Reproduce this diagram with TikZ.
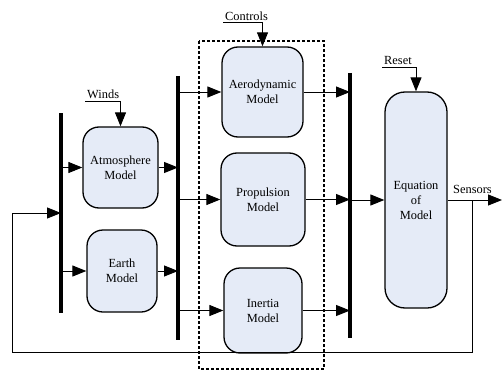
\documentclass[tikz,border=0pt]{standalone}
\usepackage{fontspec}
\setmainfont{Liberation Serif}
\usetikzlibrary{arrows.meta}

\begin{document}
\begin{tikzpicture}[x=1pt, y=-1pt, every node/.style={font=\fontsize{12.4}{15}\selectfont},
	>={Triangle[length=14pt, width=11pt]},
	model/.style={draw, line width=1.3pt, rounded corners=16pt, fill={rgb,255:red,229;green,235;blue,247}, align=center, inner sep=0pt},
	bus/.style={line width=3.4pt},
	sig/.style={line width=0.9pt},
	lbl/.style={anchor=south west, inner xsep=2pt, inner ysep=1.8pt, fill=white}]
	\useasboundingbox (0,0) rectangle (502,385);
	% buses
	\coordinate (b1t) at (61,113);  \coordinate (b1b) at (61,313);
	\coordinate (b2t) at (178,76);  \coordinate (b2b) at (178,340);
	\coordinate (b3t) at (350,73);  \coordinate (b3b) at (350,338);
	\draw[bus] (b1t) -- (b1b);
	\draw[bus] (b2t) -- (b2b);
	\draw[bus] (b3t) -- (b3b);
	% dashed group
	\draw[line width=1.2pt, dash pattern=on 3pt off 2pt] (199,41) rectangle (324,369);
	% models
	\node[model, minimum width=75pt, minimum height=81pt] (atm) at (120.5,167.5) {Atmosphere\\Model};
	\node[model, minimum width=70pt, minimum height=82pt] (earth) at (122,271) {Earth\\Model};
	\node[model, minimum width=81pt, minimum height=90pt] (aero) at (262.5,92) {Aerodynamic\\Model};
	\node[model, minimum width=84pt, minimum height=93pt] (prop) at (263,199.5) {Propulsion\\Model};
	\node[model, minimum width=78pt, minimum height=85pt] (inert) at (263,310.5) {Inertia\\Model};
	\node[model, rounded corners=20pt, minimum width=62pt, minimum height=216pt] (eq) at (416,200) {Equation\\of\\Model};
	% inputs
	\node[lbl] (winds) at (85,101) {Winds};
	\node[lbl] (ctrl) at (223,22.5) {Controls};
	\node[lbl] (reset) at (382,67) {Reset};
	\node[anchor=base west, inner sep=2pt] (sens) at (451,193) {Sensors};
	\draw[sig, ->] (winds.south west) -| (atm.north);
	\draw[sig, ->] (ctrl.south west) -| (aero.north);
	\draw[sig, ->] (reset.south west) -| (eq.north);
	% bus 1
	\draw[sig, ->] (b1t |- atm) -- (atm);
	\draw[sig, ->] (b1t |- earth) -- (earth);
	\draw[sig, ->] (atm) -- (atm -| b2t);
	\draw[sig, ->] (earth) -- (earth -| b2t);
	% bus 2
	\draw[sig, ->] (b2t |- aero) -- (aero);
	\draw[sig, ->] (b2t |- prop) -- (prop);
	\draw[sig, ->] (b2t |- inert) -- (inert);
	\draw[sig, ->] (aero) -- (aero -| b3t);
	\draw[sig, ->] (prop) -- (prop -| b3t);
	\draw[sig, ->] (inert) -- (inert -| b3t);
	% bus 3
	\draw[sig, ->] (b3t |- eq) -- (eq);
	% output and feedback
	\coordinate (out) at (502,200);
	\coordinate (fb) at (472,200);
	\coordinate (fbl) at (12,352);
	\draw[sig, ->] (eq) -- (out);
	\draw[sig, ->] (fb) |- (fbl) |- (61,213);
\end{tikzpicture}
\end{document}
